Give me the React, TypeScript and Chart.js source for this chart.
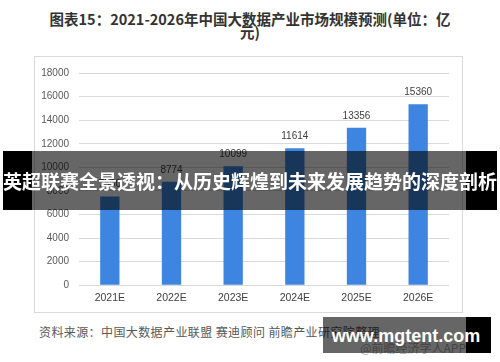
import React, { useEffect, useRef } from "react";
import Chart from "chart.js/auto";

const titleLine1 = "图表15：2021-2026年中国大数据产业市场规模预测(单位：亿";
const titleLine2 = "元)";
const categories = ["2021E", "2022E", "2023E", "2024E", "2025E", "2026E"];
const values = [7530, 8774, 10099, 11614, 13356, 15360];
const yMin = 0;
const yMax = 18000;
const yStep = 2000;
const sourceText = "资料来源：中国大数据产业联盟 赛迪顾问 前瞻产业研究院整理";
const bannerText = "英超联赛全景透视：从历史辉煌到未来发展趋势的深度剖析";
const siteText = "www.mgtent.com";
const appText = "@前瞻经济学人APP";

const CJK = '"Noto Sans CJK SC", "Noto Sans", sans-serif';
const LAT = '"Liberation Sans", Arial, sans-serif';

export default function App() {
  const ref = useRef<HTMLCanvasElement | null>(null);

  useEffect(() => {
    if (!ref.current) return;
    const valueLabels = {
      id: "valueLabels",
      afterDatasetsDraw(chart: any) {
        const ctx = chart.ctx;
        const meta = chart.getDatasetMeta(0);
        ctx.save();
        ctx.font = `10px ${LAT}`;
        ctx.fillStyle = "#404040";
        ctx.textAlign = "center";
        ctx.textBaseline = "middle";
        meta.data.forEach((bar: any, i: number) => {
          ctx.fillText(String(values[i]), bar.x, bar.y - 12);
        });
        ctx.restore();
      },
    };
    const chart = new Chart(ref.current, {
      type: "bar",
      data: {
        labels: categories,
        datasets: [
          {
            data: values,
            backgroundColor: "#3d85e0",
            borderWidth: 0,
            categoryPercentage: 1,
            barPercentage: 0.313,
          },
        ],
      },
      options: {
        animation: false,
        responsive: false,
        devicePixelRatio: 1,
        layout: { padding: { top: 12.7, right: 13, left: 0, bottom: 0 } },
        plugins: {
          legend: { display: false },
          tooltip: { enabled: false },
          title: { display: false },
        },
        scales: {
          x: {
            grid: { display: false, drawTicks: false },
            border: { display: false },
            ticks: { color: "#404040", font: { family: LAT, size: 10.5 }, padding: 7 },
            afterFit: (s: any) => {
              s.height = 26.7;
            },
          },
          y: {
            min: yMin,
            max: yMax,
            grid: { color: "#d9d9d9", lineWidth: 1, drawTicks: false },
            border: { display: false },
            ticks: {
              stepSize: yStep,
              color: "#595959",
              font: { family: LAT, size: 10 },
              padding: 10,
              callback: (v: any) => String(v),
            },
            afterFit: (s: any) => {
              s.width = 44;
            },
          },
        },
      },
      plugins: [valueLabels],
    } as any);
    return () => chart.destroy();
  }, []);

  return (
    <div
      style={{
        position: "fixed",
        left: 0,
        top: 0,
        width: 500,
        height: 362,
        background: "#fff",
        overflow: "hidden",
      }}
    >
      <div
        style={{
          position: "absolute",
          left: 0,
          width: 500,
          top: 12,
          textAlign: "center",
          fontFamily: CJK,
          fontWeight: 700,
          fontSize: 14.5,
          lineHeight: "13px",
          color: "#333",
          whiteSpace: "nowrap",
        }}
      >
        <div>{titleLine1}</div>
        <div>{titleLine2}</div>
      </div>
      <div
        style={{
          position: "absolute",
          left: 34,
          top: 56,
          width: 427,
          height: 255,
          border: "1px solid #d9d9d9",
        }}
      >
        <canvas ref={ref} width={427} height={255} style={{ display: "block", width: 427, height: 255 }} />
      </div>
      <div
        style={{
          position: "absolute",
          left: 39,
          top: 323,
          fontFamily: CJK,
          fontSize: 12,
          lineHeight: "17px",
          letterSpacing: 0.4,
          color: "#595959",
          whiteSpace: "nowrap",
        }}
      >
        {sourceText}
      </div>
      <div
        style={{
          position: "absolute",
          right: 34,
          top: 341,
          fontFamily: CJK,
          fontSize: 12,
          lineHeight: "14px",
          color: "#aaa",
          whiteSpace: "nowrap",
        }}
      >
        {appText}
      </div>
      {/* banner overlay */}
      <div style={{ position: "absolute", left: 3, top: 151, width: 29, height: 59, background: "#000" }} />
      <div style={{ position: "absolute", left: 466, top: 151, width: 31, height: 59, background: "#000" }} />
      <div style={{ position: "absolute", left: 32, top: 151, width: 434, height: 59, background: "rgba(0,0,0,0.6)" }} />
      <div
        style={{
          position: "absolute",
          left: 0,
          width: 500,
          top: 151,
          height: 59,
          lineHeight: "59px",
          textAlign: "center",
          fontFamily: CJK,
          fontWeight: 700,
          fontSize: 19,
          color: "#fff",
          whiteSpace: "nowrap",
        }}
      >
        {bannerText}
      </div>
      {/* site watermark */}
      <div style={{ position: "absolute", left: 466, top: 317, width: 25, height: 36, background: "#000" }} />
      <div style={{ position: "absolute", left: 323, top: 317, width: 143, height: 36, background: "rgba(0,0,0,0.6)" }} />
      <div
        style={{
          position: "absolute",
          left: 323,
          width: 166,
          top: 317,
          height: 36,
          lineHeight: "38px",
          textAlign: "center",
          fontFamily: LAT,
          fontWeight: 700,
          fontSize: 18,
          color: "#fff",
          whiteSpace: "nowrap",
        }}
      >
        {siteText}
      </div>
    </div>
  );
}
